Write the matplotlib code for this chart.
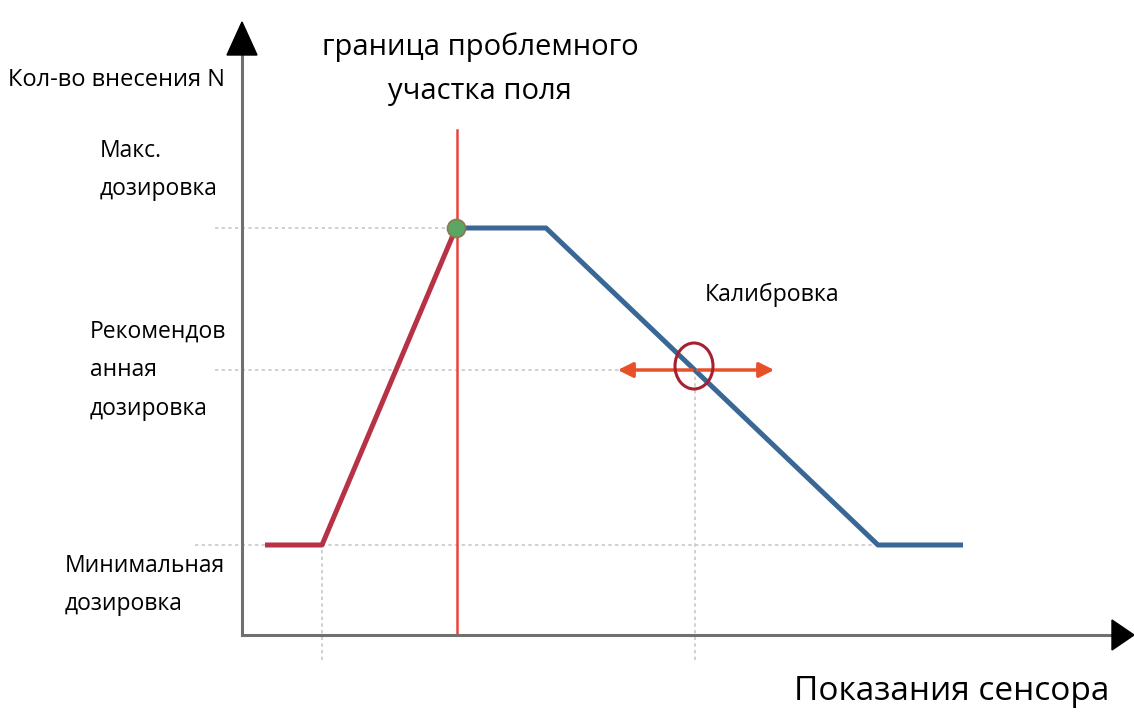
import matplotlib.pyplot as plt
from matplotlib.patches import Ellipse, Polygon

# sensor reading (x) vs. number of applications (y), chart units
dose_levels = [90, 265, 407]          # min, recommended, max
dose_names = ['Минимальная\nдозировка', 'Рекомендов\nанная\nдозировка', 'Макс.\nдозировка']

red_x = [23, 80, 214]
red_y = [90, 90, 407]
blue_x = [214, 304, 636, 721]
blue_y = [407, 407, 90, 90]

border_x = 215        # boundary of the problem area
calib_x = 453         # calibration point on the blue line
calib_y = 265

plt.rcParams['font.family'] = ['Open Sans', 'DejaVu Sans']

fig = plt.figure(figsize=(11.34, 7.13), dpi=100)
ax = fig.add_axes([0, 0, 1, 1])
ax.set_xlim(-242, 892)
ax.set_ylim(-78, 635)
ax.axis('off')

# dotted guides
guide = dict(color='#c8c8c8', lw=1.2, ls=(0, (2, 2)), zorder=1)
ax.plot([-27, 214], [dose_levels[2]] * 2, **guide)
ax.plot([-27, 380], [dose_levels[1]] * 2, **guide)
ax.plot([-47, 640], [dose_levels[0]] * 2, **guide)
ax.plot([80, 80], [-25, dose_levels[0]], **guide)
ax.plot([calib_x, calib_x], [-25, calib_y], **guide)

# axes with arrow heads
ax.plot([0, 0], [0, 585], color='#707070', lw=2.2, zorder=3)
ax.plot([0, 875], [0, 0], color='#707070', lw=2.2, zorder=3)
ax.add_patch(Polygon([[-15, 580], [15, 580], [0, 613]], closed=True, color='black', zorder=4))
ax.add_patch(Polygon([[870, 15], [870, -15], [892, 0]], closed=True, color='black', zorder=4))

# problem area border
ax.plot([border_x, border_x], [0, 505], color='#e8453c', lw=1.8, zorder=2)

# dosage curves
ax.plot(red_x, red_y, color='#b83245', lw=3.6, solid_capstyle='butt', zorder=3)
ax.plot(blue_x, blue_y, color='#3a6896', lw=3.6, solid_capstyle='butt', zorder=3)
ax.plot(red_x[-1], red_y[-1], 'o', ms=13, color='#5aa662', mec='#8a7a50', mew=1.2, zorder=5)

# calibration marker
arrow = dict(arrowstyle='-|>,head_length=0.9,head_width=0.45', color='#e8502a', lw=2.5)
ax.annotate('', xy=(373, calib_y), xytext=(calib_x, calib_y), arrowprops=arrow, zorder=4)
ax.annotate('', xy=(535, calib_y), xytext=(calib_x, calib_y), arrowprops=arrow, zorder=4)
ax.add_patch(Ellipse((calib_x - 1, calib_y + 4), 38, 46, fill=False, ec='#a8202e', lw=2.2, zorder=5))

# labels
ax.text(-17, 555, 'Кол-во внесения N', ha='right', va='center', fontsize=17)
label_pos = [(-177, 50), (-152, 265), (-142, 465)]
for (lx, ly), name in zip(label_pos, dose_names):
    ax.text(lx, ly, name, ha='left', va='center', fontsize=16.5, linespacing=1.82)
ax.text(238, 566, 'граница проблемного\nучастка поля', ha='center', va='center', fontsize=21, linespacing=1.69)
ax.text(463, 340, 'Калибровка', ha='left', va='center', fontsize=16.7)
ax.text(710, -57, 'Показания сенсора', ha='center', va='center', fontsize=24)

fig.savefig('out.png', dpi=100)
